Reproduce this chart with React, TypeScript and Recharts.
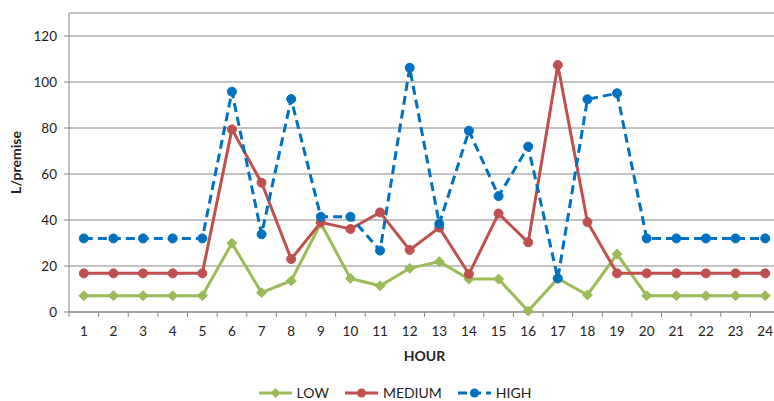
import { LineChart, Line, XAxis, YAxis, CartesianGrid, Legend, Label } from "recharts";

const hours = ["1", "2", "3", "4", "5", "6", "7", "8", "9", "10", "11", "12", "13", "14", "15", "16", "17", "18", "19", "20", "21", "22", "23", "24"];
const lowValues = [7.1, 7.1, 7.1, 7.1, 7.1, 29.9, 8.4, 13.6, 38.6, 14.6, 11.4, 19.0, 21.9, 14.3, 14.3, 0.4, 14.6, 7.4, 25.2, 7.1, 7.1, 7.1, 7.1, 7.1];
const mediumValues = [16.8, 16.8, 16.8, 16.8, 16.8, 79.4, 56.2, 23.0, 39.0, 36.1, 43.3, 27.0, 36.7, 16.5, 42.8, 30.3, 107.4, 39.1, 16.8, 16.8, 16.8, 16.8, 16.8, 16.8];
const highValues = [32, 32, 32, 32, 32, 95.8, 33.8, 92.6, 41.4, 41.4, 26.7, 106.2, 38.3, 78.8, 50.4, 71.9, 14.6, 92.5, 95.1, 32, 32, 32, 32, 32];
const yTicks = [0, 20, 40, 60, 80, 100, 120];

const data = hours.map((h, i) => ({
  hour: h,
  low: lowValues[i],
  medium: mediumValues[i],
  high: highValues[i],
}));

const GREEN = "#9BBB59";
const RED = "#C0504D";
const BLUE = "#0070C0";
const GRID = "#868686";
const FONT = "Lato, 'Open Sans', sans-serif";

const CHART_W = 790;
const MARGIN_R = 10;
const Y_W = 69;
const HALF_BAND = (CHART_W - MARGIN_R - Y_W) / 48;

function XTick(props: any) {
  const { x, y, payload, index } = props;
  return (
    <g>
      <line x1={x - HALF_BAND} x2={x - HALF_BAND} y1={y} y2={y + 5} stroke={GRID} />
      {index === hours.length - 1 && (
        <line x1={x + HALF_BAND} x2={x + HALF_BAND} y1={y} y2={y + 5} stroke={GRID} />
      )}
      <text x={x} y={y + 24} textAnchor="middle" fontSize={13.5} fill="#222" fontFamily={FONT}>
        {payload.value}
      </text>
    </g>
  );
}

function Diamond(props: any) {
  const { cx, cy } = props;
  if (cx == null || cy == null) return null;
  const r = 5;
  return (
    <polygon
      points={`${cx},${cy - r} ${cx + r},${cy} ${cx},${cy + r} ${cx - r},${cy}`}
      fill={GREEN}
      stroke={GREEN}
    />
  );
}

const legendItems = [
  { name: "LOW", color: GREEN, shape: "diamond", dash: undefined as string | undefined },
  { name: "MEDIUM", color: RED, shape: "circle", dash: undefined },
  { name: "HIGH", color: BLUE, shape: "circle", dash: "9 5" },
];

function renderLegend() {
  return (
    <div
      style={{
        display: "flex",
        justifyContent: "center",
        alignItems: "center",
        height: 37,
        paddingTop: 20,
        boxSizing: "border-box",
        paddingLeft: 10,
        fontFamily: FONT,
        fontSize: 14,
        color: "#222",
      }}
    >
      {legendItems.map((it) => (
        <div key={it.name} style={{ display: "flex", alignItems: "center", margin: "0 8px" }}>
          <svg width={33} height={12} style={{ marginRight: 5 }}>
            <line x1={0} x2={33} y1={6} y2={6} stroke={it.color} strokeWidth={3} strokeDasharray={it.dash} />
            {it.shape === "diamond" ? (
              <polygon points="16.5,1 21.5,6 16.5,11 11.5,6" fill={it.color} />
            ) : (
              <circle cx={16.5} cy={6} r={4.5} fill={it.color} />
            )}
          </svg>
          <span>{it.name}</span>
        </div>
      ))}
    </div>
  );
}

export default function App() {
  return (
    <div
      style={{
        position: "fixed",
        left: 0,
        top: 0,
        width: 774,
        height: 401,
        overflow: "hidden",
        background: "#fff",
      }}
    >
      <LineChart width={CHART_W} height={401} data={data} margin={{ top: 13, right: MARGIN_R, left: 0, bottom: 0 }}>
        <CartesianGrid vertical={false} stroke={GRID} />
        <XAxis
          dataKey="hour"
          height={52}
          interval={0}
          padding={{ left: HALF_BAND, right: HALF_BAND }}
          tickLine={false}
          tickSize={0}
          tickMargin={0}
          axisLine={{ stroke: GRID }}
          tick={<XTick />}
        >
          <Label
            content={() => (
              <text x={424.5} y={361} textAnchor="middle" fontSize={14} fontWeight="bold" fill="#222" fontFamily={FONT}>
                HOUR
              </text>
            )}
          />
        </XAxis>
        <YAxis
          width={Y_W}
          domain={[0, 130]}
          ticks={yTicks}
          interval={0}
          tickSize={5}
          tickMargin={7}
          tickLine={{ stroke: GRID }}
          axisLine={{ stroke: GRID }}
          tick={{ fill: "#222", fontSize: 13.5, fontFamily: FONT }}
        >
          <Label
            content={() => (
              <text
                x={21}
                y={162.5}
                transform="rotate(-90 21 162.5)"
                textAnchor="middle"
                fontSize={14}
                fontWeight="bold"
                fill="#222"
                fontFamily={FONT}
              >
                L/premise
              </text>
            )}
          />
        </YAxis>
        <Legend verticalAlign="bottom" content={renderLegend} />
        <Line
          dataKey="low"
          name="LOW"
          stroke={GREEN}
          strokeWidth={3}
          dot={<Diamond />}
          isAnimationActive={false}
        />
        <Line
          dataKey="medium"
          name="MEDIUM"
          stroke={RED}
          strokeWidth={3}
          dot={{ r: 4.5, fill: RED, stroke: RED, strokeWidth: 1 }}
          isAnimationActive={false}
        />
        <Line
          dataKey="high"
          name="HIGH"
          stroke={BLUE}
          strokeWidth={3}
          strokeDasharray="9 5"
          dot={{ r: 4.5, fill: BLUE, stroke: BLUE, strokeWidth: 1, strokeDasharray: "" }}
          isAnimationActive={false}
        />
      </LineChart>
    </div>
  );
}
